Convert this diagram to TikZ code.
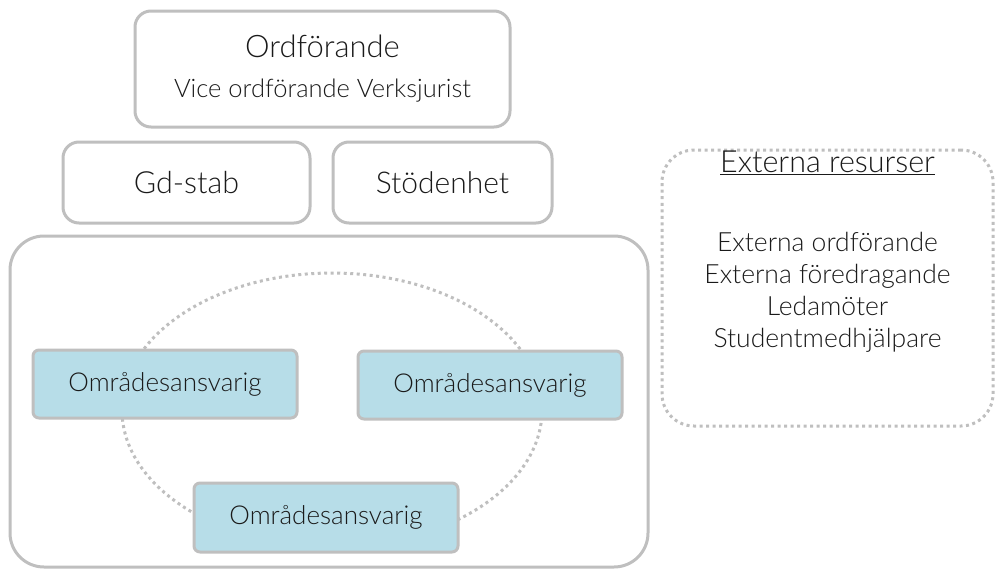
\documentclass[tikz,border=0pt]{standalone}
\usepackage{fontspec}
\setmainfont{Lato Light}
\usetikzlibrary{positioning}
\definecolor{Frame}{HTML}{BFBFBF}
\definecolor{Area}{HTML}{B7DDE8}
\definecolor{Ink}{HTML}{1A1A1A}
\tikzset{
    graybox/.style={rectangle, rounded corners=16pt, draw=Frame, line width=3pt, text=Ink, align=center},
    bluebox/.style={rectangle, rounded corners=6pt, draw=Frame, line width=3pt, fill=Area, text=Ink, minimum width=264pt, minimum height=68pt, font=\fontsize{26}{30}\selectfont},
    dotline/.style={draw=Frame, line width=3pt, dash pattern=on 3pt off 3.5pt},
    bigtext/.style={font=\fontsize{30.5}{34}\selectfont, text=Ink},
}

\begin{document}
\begin{tikzpicture}[x=1pt, y=-1pt]
    \useasboundingbox (0,0) rectangle (996,570);

    % Ledning
    \node[graybox, font=\fontsize{25.5}{40}\selectfont, minimum width=375pt, minimum height=116pt] (ordf) at (322.5,69)
        {{\fontsize{31}{37}\selectfont Ordförande}\\Vice ordförande Verksjurist};
    \node[graybox, bigtext, minimum width=247pt, minimum height=81pt] (gdstab) at (186.5,182.5) {Gd-stab};
    \node[graybox, bigtext, font=\fontsize{30}{34}\selectfont, minimum width=219pt, minimum height=81pt] (stod) at (442.5,182.5) {Stödenhet};

    % Omraden
    \node[graybox, rounded corners=34pt, minimum width=638pt, minimum height=331pt] (omr) at (329,401.5) {};
    \draw[dotline] (332,410) ellipse [x radius=210, y radius=137];
    \node[bluebox] (omrA) at (165,384) {Områdesansvarig};
    \node[bluebox] (omrB) at (490,385) {Områdesansvarig};
    \node[bluebox, minimum height=69pt] (omrC) at (326,517.5) {Områdesansvarig};

    % Externa resurser
    \node[rectangle, rounded corners=32pt, dotline, minimum width=331pt, minimum height=276pt] (ext) at (827.5,288) {};
    \node[bigtext] (exttitle) at (827.5,163) {\underline{Externa resurser}};
    \node[align=center, text=Ink, font=\fontsize{26.5}{32}\selectfont] (extlist) at (827.5,292)
        {Externa ordförande\\Externa föredragande\\Ledamöter\\Studentmedhjälpare};
\end{tikzpicture}
\end{document}
